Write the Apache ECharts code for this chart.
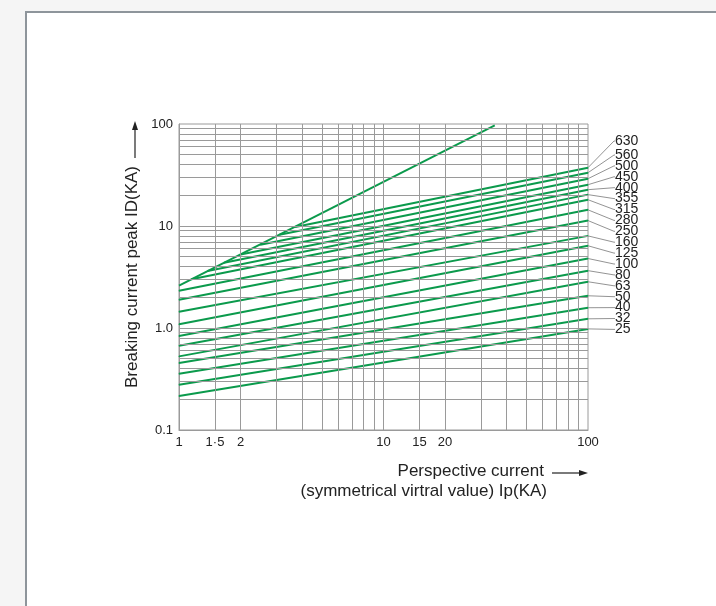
<!DOCTYPE html>
<html>
<head>
<meta charset="utf-8">
<script src="https://cdn.jsdelivr.net/npm/echarts@6/dist/echarts.min.js"></script>
<style>
html, body { margin: 0; padding: 0; background: #f5f5f5; }
#panel { position: absolute; left: 25px; top: 11px; right: 0; bottom: 0; background: #fff;
         border-left: 2px solid #8e959b; border-top: 2px solid #8e959b; }
#main { position: absolute; left: 0; top: 0; width: 716px; height: 606px; }
</style>
</head>
<body>
<div id="panel"></div>
<div id="main"></div>
<script>
// fuse ratings (A) and their cut-off lines: start point and value at Ip = 100 kA
var ratings = [630, 560, 500, 450, 400, 355, 315, 280, 250, 160, 125, 100, 80, 63, 50, 40, 32, 25];
var startIp = [3.7, 3.1, 2.5, 2.0, 1.66, 1.38, 1.15, 1, 1, 1, 1, 1, 1, 1, 1, 1, 1, 1];
var startId = [9.8, 8.2, 6.55, 5.26, 4.37, 3.62, 3.0, 2.32, 1.89, 1.44, 1.09, 0.835, 0.67, 0.527, 0.454, 0.356, 0.278, 0.215];
var endIp = 100;
var endId = [37.3, 33.3, 29.1, 25.4, 22.7, 20.3, 18.1, 14.4, 11.3, 8.0, 6.4, 4.8, 3.65, 2.84, 2.07, 1.58, 1.23, 0.98];

// max. peak current line
var peakIp = [1, 35];
var peakId = [2.6, 97];

// tick labels and grid lines
var xLabels = [1, 1.5, 2, 10, 15, 20, 100];
var yLabels = [0.1, 1, 10, 100];
var xGrid = [1.5, 2, 3, 4, 5, 6, 7, 8, 9, 10, 15, 20, 30, 40, 50, 60, 70, 80, 90];
var yGrid = [0.2, 0.3, 0.4, 0.5, 0.6, 0.7, 0.8, 0.9, 1, 2, 3, 4, 5, 6, 7, 8, 9, 10, 20, 30, 40, 50, 60, 70, 80, 90];

var green = '#0b9a4c';
var myChart = echarts.init(document.getElementById('main'));

function labelY(i) {
    return i === 0 ? 141 : 155 + (i - 1) * 10.9;
}

var series = [];
series.push({
    type: 'line',
    data: [],
    silent: true,
    markLine: {
        silent: true,
        symbol: 'none',
        animation: false,
        label: { show: false },
        lineStyle: { color: '#9a9a9a', type: 'solid', width: 1 },
        data: xGrid.map(function (v) { return { xAxis: v }; })
            .concat(yGrid.map(function (v) { return { yAxis: v }; }))
    }
});
series.push({
    type: 'line',
    data: peakIp.map(function (v, i) { return [v, peakId[i]]; }),
    showSymbol: false,
    silent: true,
    lineStyle: { color: green, width: 2 },
    z: 3
});
ratings.forEach(function (r, i) {
    series.push({
        name: String(r),
        type: 'line',
        data: [[startIp[i], startId[i]], { value: [endIp, endId[i]], label: { show: true } }],
        symbol: 'circle',
        symbolSize: 1,
        showSymbol: true,
        silent: true,
        lineStyle: { color: green, width: 2 },
        itemStyle: { color: green },
        label: {
            show: false,
            formatter: String(r),
            color: '#222',
            fontSize: 14,
            fontFamily: 'Liberation Sans'
        },
        labelLine: { show: true, length2: 1, lineStyle: { color: '#777', width: 0.8 } },
        labelLayout: { x: 615, y: labelY(i), align: 'left', verticalAlign: 'middle' },
        z: 3
    });
});

option = {
    animation: false,
    textStyle: { fontFamily: 'Liberation Sans' },
    grid: { left: 179, top: 124, width: 409, height: 306, show: true, borderColor: '#9a9a9a', borderWidth: 1 },
    xAxis: {
        type: 'log',
        logBase: 10,
        min: 1,
        max: 100,
        axisLine: { lineStyle: { color: '#9a9a9a' } },
        axisTick: { show: false },
        splitLine: { show: false },
        axisLabel: {
            customValues: xLabels,
            color: '#222',
            fontSize: 13,
            margin: 6,
            formatter: function (v) {
                var r = Math.round(v * 10) / 10;
                return r === 1.5 ? '1\u00b75' : String(r);
            }
        }
    },
    yAxis: {
        type: 'log',
        logBase: 10,
        min: 0.1,
        max: 100,
        axisLine: { lineStyle: { color: '#9a9a9a' } },
        axisTick: { show: false },
        splitLine: { show: false },
        name: 'Breaking current peak ID(KA)',
        nameLocation: 'middle',
        nameRotate: 90,
        nameGap: 37,
        nameTextStyle: { color: '#222', fontSize: 17 },
        axisLabel: {
            customValues: yLabels,
            color: '#222',
            fontSize: 13,
            margin: 6,
            formatter: function (v) {
                var r = Math.round(v * 10) / 10;
                return r === 1 ? '1.0' : String(r);
            }
        }
    },
    graphic: [
        { type: 'line', shape: { x1: 135, y1: 158, x2: 135, y2: 128 }, style: { stroke: '#222', lineWidth: 1.2 } },
        { type: 'polygon', shape: { points: [[135, 121], [132, 130], [138, 130]] }, style: { fill: '#222' } },
        { type: 'text', right: 716 - 544, top: 463, style: { text: 'Perspective current', fill: '#222', font: '17px Liberation Sans', textAlign: 'right' } },
        { type: 'text', right: 716 - 547, top: 483, style: { text: '(symmetrical virtral value) Ip(KA)', fill: '#222', font: '17px Liberation Sans', textAlign: 'right' } },
        { type: 'line', shape: { x1: 552, y1: 473, x2: 580, y2: 473 }, style: { stroke: '#222', lineWidth: 1.2 } },
        { type: 'polygon', shape: { points: [[588, 473], [579, 470], [579, 476]] }, style: { fill: '#222' } }
    ],
    series: series
};

myChart.setOption(option);
</script>
</body>
</html>
